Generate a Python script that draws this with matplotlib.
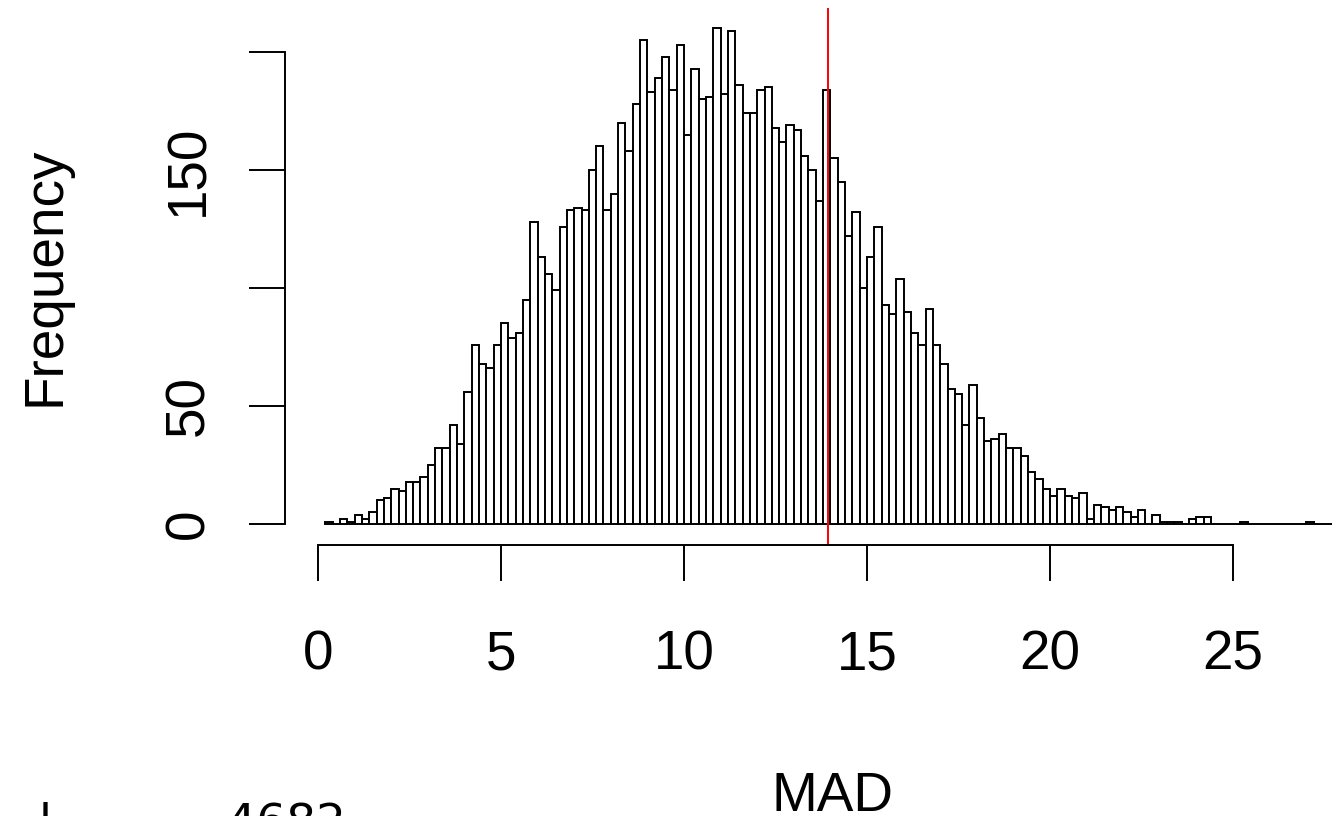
import numpy as np
import matplotlib
matplotlib.use("Agg")
import matplotlib.pyplot as plt

# histogram of MAD, bins of width 0.2 starting at 0.2
bin_start = 0.2
bin_width = 0.2
counts = [
    1, 0, 2, 1, 4, 2, 5, 10, 11, 15,
    14, 18, 18, 20, 25, 32, 32, 42, 34, 56,
    76, 68, 66, 76, 85, 79, 81, 95, 128, 113,
    106, 99, 126, 133, 134, 133, 150, 160, 133, 140,
    170, 158, 178, 205, 183, 189, 198, 184, 203, 165,
    193, 180, 181, 210, 182, 209, 186, 174, 174, 184,
    185, 168, 162, 169, 167, 156, 150, 137, 184, 155,
    145, 122, 132, 100, 113, 126, 93, 89, 104, 90,
    81, 76, 91, 76, 68, 57, 55, 42, 59, 45,
    35, 36, 38, 32, 32, 29, 22, 19, 15, 12,
    15, 12, 11, 13, 2, 8, 7, 6, 7, 5,
    3, 6, 0, 4, 1, 1, 1, 0, 2, 3,
    3, 0, 0, 0, 0, 1, 0, 0, 0, 0,
    0, 0, 0, 0, 1, 0, 0, 0, 0,
]
observed_mad = 13.93
x_ticks = [0, 5, 10, 15, 20, 25]
y_ticks = [0, 50, 100, 150, 200]
y_tick_labels = ["0", "50", "", "150", ""]

plt.rcParams['font.family'] = ['Liberation Sans', 'DejaVu Sans']

W, H = 1332, 816
fig = plt.figure(figsize=(W / 100, H / 100), dpi=100)

# plot region in pixels (runs past the right edge of the picture)
left_px, right_px, top_px, bottom_px = 285, 1381, 8, 545
ax = fig.add_axes([left_px / W, 1 - bottom_px / H,
                   (right_px - left_px) / W, (bottom_px - top_px) / H])

lefts = bin_start + bin_width * np.arange(len(counts))
ax.bar(lefts, counts, width=bin_width, align='edge',
       facecolor='white', edgecolor='black', linewidth=1.4)
ax.axvline(observed_mad, color='red', linewidth=1.4)

# x scale: 0 at 318 px, 36.6 px per unit; y: 0 at 524 px, 2.36 px per count
ax.set_xlim((left_px - 318) / 36.6, (right_px - 318) / 36.6)
ax.set_ylim((524 - bottom_px) / 2.36, (524 - top_px) / 2.36)

for side in ['top', 'right']:
    ax.spines[side].set_visible(False)
ax.spines['bottom'].set_bounds(0, 25)
ax.spines['left'].set_bounds(0, 200)
for side in ['bottom', 'left']:
    ax.spines[side].set_linewidth(1.4)

ax.set_xticks(x_ticks)
ax.set_xticklabels([str(t) for t in x_ticks])
ax.set_yticks(y_ticks)
ax.set_yticklabels(y_tick_labels, rotation=90, va='center')
ax.tick_params(axis='both', length=26, width=1.4, labelsize=39.5)
ax.tick_params(axis='x', pad=35)
ax.tick_params(axis='y', pad=24)

fig.text(45 / W, 1 - 276 / H, 'Frequency', rotation=90,
         ha='center', va='center', fontsize=39.5)
fig.text(833 / W, 1 - 811 / H, 'MAD', ha='center', va='baseline',
         fontsize=39.5)
fig.text(39 / W, 1 - 837 / H, 'l    =     4682', ha='left', va='baseline',
         fontsize=33.8, family='DejaVu Sans')

fig.savefig('out.png', dpi=100)
